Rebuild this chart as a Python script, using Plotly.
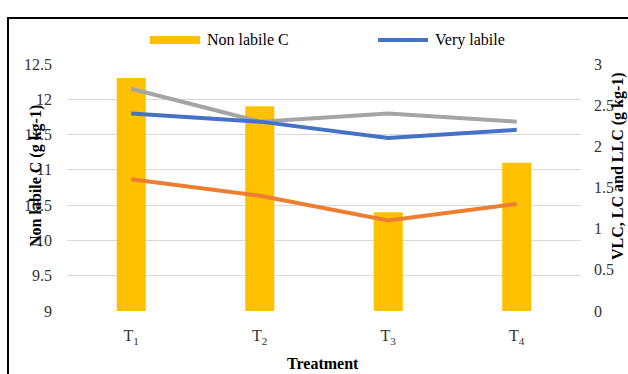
import plotly.graph_objects as go

# Treatments and measured carbon fractions
treatments = ["T1", "T2", "T3", "T4"]
treatment_labels = ["T<sub>1</sub>", "T<sub>2</sub>", "T<sub>3</sub>", "T<sub>4</sub>"]
non_labile_c = [12.3, 11.9, 10.4, 11.1]      # g kg-1, left axis
very_labile = [2.4, 2.3, 2.1, 2.2]           # g kg-1, right axis
labile = [2.7, 2.3, 2.4, 2.3]                # g kg-1, right axis
less_labile = [1.6, 1.4, 1.1, 1.3]           # g kg-1, right axis

GOLD = "#FFC000"
BLUE = "#4472C4"
ORANGE = "#ED7D31"
GREY = "#A5A5A5"
FONT = "Times New Roman, Liberation Serif, serif"

W, H = 628, 374
L, R, T, B = 67, 47, 64, 63
PW, PH = W - L - R, H - T - B


def px_x(x):
    return (x - L) / PW


def px_y(y):
    return (H - B - y) / PH


fig = go.Figure()

fig.add_trace(go.Bar(
    x=treatments, y=non_labile_c, name="Non labile C",
    marker=dict(color=GOLD, line=dict(width=0)),
    yaxis="y", showlegend=False,
))
fig.add_trace(go.Scatter(
    x=treatments, y=less_labile, name="Less labile", mode="lines",
    line=dict(color=ORANGE, width=4), yaxis="y2", showlegend=False,
))
fig.add_trace(go.Scatter(
    x=treatments, y=labile, name="Labile", mode="lines",
    line=dict(color=GREY, width=4), yaxis="y2", showlegend=False,
))
fig.add_trace(go.Scatter(
    x=treatments, y=very_labile, name="Very labile", mode="lines",
    line=dict(color=BLUE, width=4), yaxis="y2", showlegend=False,
))

# Legend keys drawn as wide strokes
fig.add_shape(type="line", xref="paper", yref="paper",
              x0=px_x(150), x1=px_x(200), y0=px_y(40), y1=px_y(40),
              line=dict(color=GOLD, width=8))
fig.add_shape(type="line", xref="paper", yref="paper",
              x0=px_x(378), x1=px_x(428), y0=px_y(40), y1=px_y(40),
              line=dict(color=BLUE, width=4))
fig.add_annotation(text="Non labile C", xref="paper", yref="paper",
                   x=px_x(205), y=px_y(40), xanchor="left", yanchor="middle",
                   showarrow=False, font=dict(family=FONT, size=16, color="#000"))
fig.add_annotation(text="Very labile", xref="paper", yref="paper",
                   x=px_x(433), y=px_y(40), xanchor="left", yanchor="middle",
                   showarrow=False, font=dict(family=FONT, size=16, color="#000"))

# Axis titles
fig.add_annotation(text="<b>Non labile C (g kg-1)</b>", xref="paper", yref="paper",
                   x=px_x(36), y=px_y(176), xanchor="center", yanchor="middle",
                   textangle=-90, showarrow=False,
                   font=dict(family=FONT, size=16, color="#000"))
fig.add_annotation(text="<b>VLC, LC and LLC (g kg-1)</b>", xref="paper", yref="paper",
                   x=px_x(618), y=px_y(166), xanchor="center", yanchor="middle",
                   textangle=-90, showarrow=False,
                   font=dict(family=FONT, size=16, color="#000"))
fig.add_annotation(text="<b>Treatment</b>", xref="paper", yref="paper",
                   x=px_x(323), y=px_y(363), xanchor="center", yanchor="middle",
                   showarrow=False, font=dict(family=FONT, size=16, color="#000"))

# Chart frame
fig.add_shape(type="rect", xref="paper", yref="paper",
              x0=px_x(8), x1=px_x(640), y0=px_y(390), y1=px_y(18),
              line=dict(color="#000", width=2), fillcolor="rgba(0,0,0,0)")

fig.update_layout(
    width=W, height=H,
    margin=dict(l=L, r=R, t=T, b=B, pad=0),
    paper_bgcolor="white", plot_bgcolor="white",
    bargap=0.774,
    font=dict(family=FONT, size=16, color="#222"),
    xaxis=dict(
        tickvals=treatments, ticktext=treatment_labels,
        showgrid=False, zeroline=False, showline=False,
        ticks="outside", ticklen=10, tickcolor="rgba(0,0,0,0)",
        tickfont=dict(family=FONT, size=16, color="#333"),
    ),
    yaxis=dict(
        range=[9, 12.5], dtick=0.5,
        showgrid=True, gridcolor="#D9D9D9", gridwidth=1,
        zeroline=False, showline=False,
        ticklabelstandoff=14,
        tickfont=dict(family=FONT, size=16, color="#333"),
    ),
    yaxis2=dict(
        range=[0, 3], dtick=0.5, overlaying="y", side="right",
        showgrid=False, zeroline=False, showline=False,
        ticklabelstandoff=12,
        tickfont=dict(family=FONT, size=16, color="#333"),
    ),
)

fig.write_html("out.html")
